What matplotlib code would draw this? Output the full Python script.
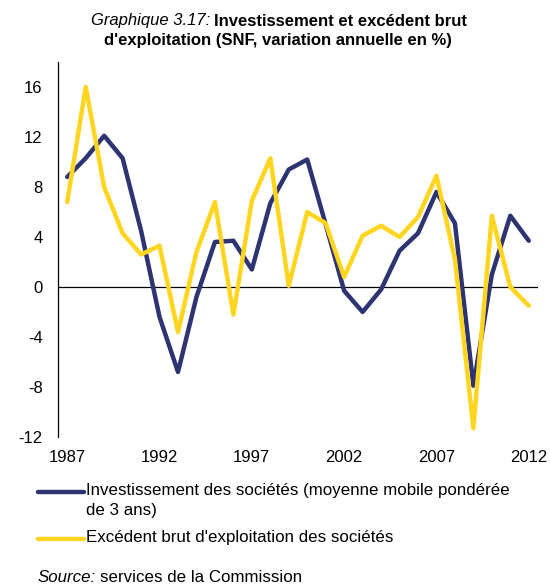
import matplotlib
matplotlib.use("Agg")
import matplotlib.pyplot as plt
from matplotlib.lines import Line2D

years = list(range(1987, 2013))
investissement = [8.8, 10.3, 12.1, 10.3, 4.5, -2.4, -6.8, -0.8, 3.6, 3.7, 1.4, 6.7,
                  9.4, 10.2, 5.0, -0.3, -2.0, -0.2, 2.9, 4.3, 7.6, 5.1, -7.9, 1.0, 5.7, 3.7]
ebe = [6.8, 16.0, 8.0, 4.3, 2.6, 3.3, -3.6, 2.8, 6.8, -2.2, 6.9, 10.3,
       0.1, 6.0, 5.1, 0.8, 4.1, 4.9, 4.0, 5.6, 8.9, 2.2, -11.3, 5.7, 0.0, -1.5]
yticks = [-12, -8, -4, 0, 4, 8, 12, 16]
xticks = [1987, 1992, 1997, 2002, 2007, 2012]
label_inv = "Investissement des sociétés (moyenne mobile pondérée\nde 3 ans)"
label_ebe = "Excédent brut d'exploitation des sociétés"

plt.rcParams['font.family'] = ['Liberation Sans', 'DejaVu Sans']
plt.rcParams['axes.unicode_minus'] = False

W, H = 550, 585
fig = plt.figure(figsize=(W / 100, H / 100), dpi=100)
ax = fig.add_axes([58 / W, 1 - 437 / H, (538 - 58) / W, (437 - 62) / H])

navy = '#2e3471'
yellow = '#ffd520'
lw = 3.2
ax.plot(years, investissement, color=navy, lw=lw, solid_joinstyle='round', solid_capstyle='round', zorder=3)
ax.plot(years, ebe, color=yellow, lw=lw, solid_joinstyle='round', solid_capstyle='round', zorder=4)
ax.axhline(0, color='black', lw=0.9, zorder=2)

ax.set_xlim(1986.5, 2012.5)
ax.set_ylim(-12, 18)
ax.set_yticks(yticks)
ax.set_xticks(xticks)
ax.tick_params(axis='both', length=0, labelsize=12)
ax.tick_params(axis='y', pad=11)
ax.tick_params(axis='x', pad=9)
for s in ['top', 'right', 'bottom']:
    ax.spines[s].set_visible(False)
ax.spines['left'].set_linewidth(0.9)

fs = 12
fs_leg = 12.2
renderer = fig.canvas.get_renderer()

# Title line 1 (italic part + bold part), centered at x=279
t_a = fig.text(0, 1 - 21 / H, "Graphique 3.17: ", style='italic', fontsize=fs, ha='left', va='center')
t_b = fig.text(0, 1 - 21 / H, "Investissement et excédent brut", weight='bold', fontsize=fs, ha='left', va='center')
wa = t_a.get_window_extent(renderer).width
wb = t_b.get_window_extent(renderer).width
x0 = 279 - (wa + wb) / 2
t_a.set_x(x0 / W)
t_b.set_x((x0 + wa) / W)
fig.text(278 / W, 1 - 41 / H, "d'exploitation (SNF, variation annuelle en %)", weight='bold', fontsize=fs, ha='center', va='center')

# Legend (manual, handle aligned with first text line)
leg_rows = [(navy, label_inv, 492), (yellow, label_ebe, 539)]
for color, label, yy in leg_rows:
    fig.add_artist(Line2D([38 / W, 84 / W], [1 - yy / H, 1 - yy / H], color=color, lw=lw,
                          solid_capstyle='round', transform=fig.transFigure))
    fig.text(86 / W, 1 - (yy - 9) / H, label, fontsize=fs_leg, ha='left', va='top', linespacing=1.45)

# Source
s_a = fig.text(38 / W, 1 - 577 / H, "Source:", style='italic', fontsize=fs_leg, ha='left', va='center')
ws = s_a.get_window_extent(renderer).width
fig.text((38 + ws + 4) / W, 1 - 577 / H, "services de la Commission", fontsize=fs_leg, ha='left', va='center')

fig.savefig("out.png", dpi=100)
